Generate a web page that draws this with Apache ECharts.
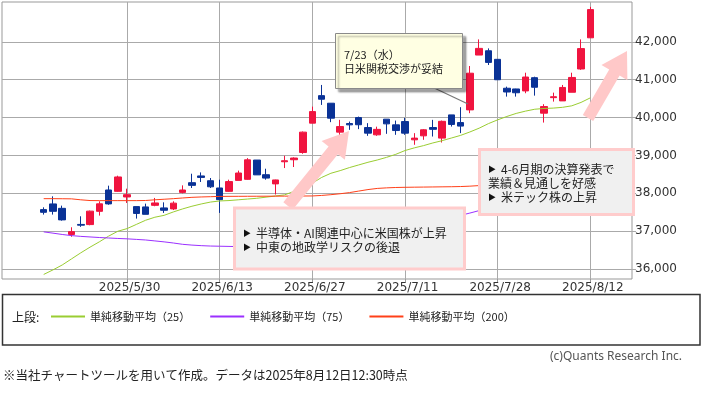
<!DOCTYPE html>
<html><head><meta charset="utf-8">
<script src="https://cdn.jsdelivr.net/npm/echarts@6/dist/echarts.min.js"></script>
<style>html,body{margin:0;padding:0;background:#fff}#c{width:709px;height:394px}</style>
</head><body><div id="c"></div>
<script>
const dates = ['2025/5/19','2025/5/20','2025/5/21','2025/5/22','2025/5/23','2025/5/26','2025/5/27','2025/5/28','2025/5/29','2025/5/30',
'2025/6/2','2025/6/3','2025/6/4','2025/6/5','2025/6/6','2025/6/9','2025/6/10','2025/6/11','2025/6/12','2025/6/13',
'2025/6/16','2025/6/17','2025/6/18','2025/6/19','2025/6/20','2025/6/23','2025/6/24','2025/6/25','2025/6/26','2025/6/27',
'2025/6/30','2025/7/1','2025/7/2','2025/7/3','2025/7/4','2025/7/7','2025/7/8','2025/7/9','2025/7/10','2025/7/11',
'2025/7/14','2025/7/15','2025/7/16','2025/7/17','2025/7/18','2025/7/22','2025/7/23','2025/7/24','2025/7/25','2025/7/28',
'2025/7/29','2025/7/30','2025/7/31','2025/8/1','2025/8/4','2025/8/5','2025/8/6','2025/8/7','2025/8/8','2025/8/12'];
const open = [37571,37721,37605,36915,37180,37176,37526,38089,38053,37905,
37650,37642,37684,37616,37589,38026,38282,38460,38334,38142,
38053,38342,38370,38879,38492,38250,38834,38887,39079,39853,
40579,40379,39616,39842,40000,39737,39545,39958,39808,39895,
39413,39518,39737,39458,40071,39868,40203,41650,41763,41537,
40774,40755,40703,41053,40116,40526,40440,40668,41282,42105];
const close = [37500,37526,37300,36990,37160,37531,37724,37722,38433,37965,
37470,37447,37747,37554,37742,38089,38211,38421,38173,37834,
38311,38537,38885,38488,38403,38354,38861,38932,39616,40158,
40484,39984,39763,39808,39811,39589,39689,39834,39658,39589,
39458,39678,39690,39901,39819,39775,41171,41826,41456,40998,
40675,40655,41070,40800,40291,40550,40795,41059,41820,42850];
const low = [37440,37440,37280,36855,37116,37158,37413,37700,38040,37747,
37334,37447,37660,37484,37560,38000,38142,38300,38142,37484,
38040,38342,38361,38488,38361,37970,38668,38695,39045,39853,
40334,39879,39432,39676,39695,39518,39518,39571,39545,39545,
39282,39413,39500,39342,39763,39590,40116,41650,41387,40998,
40553,40553,40642,40579,39868,40421,40440,40668,41260,42105];
const high = [37632,37921,37676,37105,37395,37545,37790,38203,38466,38124,
37650,37729,37879,37763,37790,38211,38518,38553,38405,38361,
38361,38600,38930,38879,38650,38361,38992,38950,39632,40289,
40861,40379,39940,39895,40026,39853,39760,39958,39921,39992,
39589,39695,39940,39921,40071,40274,41361,42063,41826,41537,
40816,40760,41184,41079,40353,40658,40861,41184,42063,42921];
const ma25 = [35860,35980,36110,36270,36430,36580,36720,36870,37000,37070,
37180,37290,37370,37420,37510,37590,37660,37720,37770,37800,
37810,37830,37850,37870,37900,37930,37960,38050,38160,38270,
38420,38530,38600,38680,38750,38820,38880,38950,39030,39130,
39200,39260,39330,39390,39460,39530,39620,39720,39840,39940,
40030,40110,40170,40220,40240,40250,40270,40310,40400,40520];
const ma75 = [36984,36950,36915,36885,36865,36850,36835,36822,36810,36800,
36785,36770,36745,36720,36690,36655,36635,36620,36610,36605,
36600,36595,36590,36590,36595,36600,36610,36625,36645,36670,
36700,36735,36775,36815,36860,36910,36960,37010,37065,37120,
37175,37230,37285,37335,37380,37420,37480,37545,37600,37650,
37700,37740,37780,37820,37850,37880,37910,37940,37980,38020];
const ma200 = [37860,37860,37858,37855,37830,37810,37808,37808,37808,37808,
37808,37812,37830,37845,37860,37878,37895,37905,37912,37920,
37921,37922,37923,37924,37925,37926,37927,37928,37930,37932,
37945,37965,37990,38020,38060,38100,38130,38145,38155,38160,
38163,38166,38169,38172,38175,38180,38190,38205,38215,38225,
38233,38241,38249,38257,38264,38271,38278,38285,38292,38300];
const xLabelDates = ['2025/5/30','2025/6/13','2025/6/27','2025/7/11','2025/7/28','2025/8/12'];
const yTicks = [36000,37000,38000,39000,40000,41000,42000];
const seriesNames = ['単純移動平均（25）','単純移動平均（75）','単純移動平均（200）'];

const PAD = 4;
const padL = Array.from({length: PAD}, (_, k) => '_l' + k);
const padR = Array.from({length: PAD}, (_, k) => '_r' + k);
const cats = padL.concat(dates, padR);
const blanks = Array(PAD).fill('-');
const kData = blanks.map(() => ['-','-','-','-'])
  .concat(dates.map((d, i) => [open[i], close[i], low[i], high[i]]))
  .concat(blanks.map(() => ['-','-','-','-']));
const padSeries = arr => blanks.concat(arr, blanks);

const RED = '#F0143F', BLUE = '#0A3296';
const CJK = 'Noto Sans CJK JP';

function arrowPts(tx, ty, px, py, s, h, hl) {
  const dx = px - tx, dy = py - ty, L = Math.hypot(dx, dy);
  const ux = dx / L, uy = dy / L, nx = -uy, ny = ux;
  const bx = px - ux * hl, by = py - uy * hl;
  return [[tx + nx * s, ty + ny * s], [bx + nx * s, by + ny * s], [bx + nx * h, by + ny * h], [px, py],
          [bx - nx * h, by - ny * h], [bx - nx * s, by - ny * s], [tx - nx * s, ty - ny * s]];
}
const txt = (x, y, t, z, size, fam, color) => ({type: 'text', x: x, y: y, z: z, silent: true,
  style: {text: t, fill: color || '#222', font: (size || 12) + 'px "' + (fam || CJK) + '"', textVerticalAlign: 'middle', verticalAlign: 'middle'}});

const chart = echarts.init(document.getElementById('c'), null, {renderer: 'canvas'});
chart.setOption({
  animation: false,
  backgroundColor: '#fff',
  grid: {left: 2, top: 2, width: 630, height: 277, show: true, borderColor: '#999', borderWidth: 1,
         backgroundColor: '#fff', containLabel: false, outerBoundsMode: 'none'},
  legend: {left: 46, top: 306, itemWidth: 34, itemHeight: 2, itemGap: 20, icon: 'rect', selectedMode: false,
           textStyle: {fontSize: 11, fontFamily: CJK, color: '#222'}, data: seriesNames},
  xAxis: {type: 'category', data: cats, boundaryGap: true,
    axisLine: {show: false},
    axisTick: {show: true, alignWithLabel: true, length: 3, interval: (i, v) => xLabelDates.includes(v), lineStyle: {color: '#999'}},
    axisLabel: {interval: (i, v) => xLabelDates.includes(v), margin: 3, padding: [0, 0, 0, 5],
      fontSize: 12, fontFamily: 'DejaVu Sans', color: '#333'},
    splitLine: {show: false}},
  yAxis: {type: 'value', position: 'right', min: 35740, max: 43050, scale: true,
    axisLine: {show: false},
    axisTick: {show: true, length: 4, customValues: yTicks, lineStyle: {color: '#aaa'}},
    axisLabel: {customValues: yTicks, margin: 3, fontSize: 12, fontFamily: 'DejaVu Sans', color: '#333',
      formatter: v => Math.round(v).toString().replace(/\B(?=(\d{3})+(?!\d))/g, ',')},
    splitLine: {show: true, lineStyle: {color: '#aaa', width: 1}}},
  series: [
    {type: 'line', name: '_grid', data: padSeries(dates.map(() => '-')), z: 1, silent: true,
     symbol: 'none', lineStyle: {opacity: 0},
     markLine: {silent: true, symbol: 'none', z: 1, animation: false, label: {show: false},
       lineStyle: {color: '#aaa', type: 'solid', width: 1},
       data: xLabelDates.map(d => ({xAxis: d}))}},
    {type: 'candlestick', name: 'kline', data: kData, z: 3, barWidth: 7,
     itemStyle: {color: RED, color0: BLUE, borderColor: RED, borderColor0: BLUE, borderWidth: 1}},
    {type: 'line', name: seriesNames[0], data: padSeries(ma25), symbol: 'none', showSymbol: false, z: 4,
     itemStyle: {color: '#9ACD32'}, lineStyle: {color: '#9ACD32', width: 1}},
    {type: 'line', name: seriesNames[1], data: padSeries(ma75), symbol: 'none', showSymbol: false, z: 4,
     itemStyle: {color: '#9B30FF'}, lineStyle: {color: '#9B30FF', width: 1}},
    {type: 'line', name: seriesNames[2], data: padSeries(ma200), symbol: 'none', showSymbol: false, z: 4,
     itemStyle: {color: '#FF4019'}, lineStyle: {color: '#FF4019', width: 1}}
  ],
  graphic: [
    {type: 'polygon', z: 100, silent: true, shape: {points: arrowPts(288, 206, 349, 131, 6, 15, 25)}, style: {fill: '#FFC8C8'}},
    {type: 'polygon', z: 100, silent: true, shape: {points: arrowPts(588, 118, 627, 51, 6, 15, 25)}, style: {fill: '#FFC8C8'}},
    {type: 'line', z: 100, silent: true, shape: {x1: 430, y1: 86, x2: 468, y2: 104}, style: {stroke: '#777', lineWidth: 1.2}},
    {type: 'rect', z: 101, silent: true, shape: {x: 335.5, y: 33.5, width: 127, height: 55},
     style: {fill: '#FFFFE3', stroke: '#8a8a8a', lineWidth: 1, shadowColor: 'rgba(0,0,0,0.35)', shadowOffsetX: 3, shadowOffsetY: 3, shadowBlur: 2}},
    txt(344, 55, '7/23（水）', 102, 11),
    txt(344, 69, '日米関税交渉が妥結', 102, 11),
    {type: 'rect', z: 103, silent: true, shape: {x: 234.5, y: 208, width: 230, height: 61},
     style: {fill: '#F0F0F0', stroke: '#FFCCCC', lineWidth: 3}},
    txt(243, 233, '▶', 104, 8, CJK, '#111'),
    txt(256, 233, '半導体・AI関連中心に米国株が上昇', 104, 12),
    txt(243, 247, '▶', 104, 8, CJK, '#111'),
    txt(256, 247, '中東の地政学リスクの後退', 104, 12),
    {type: 'rect', z: 103, silent: true, shape: {x: 479.5, y: 149.5, width: 154, height: 65},
     style: {fill: '#F0F0F0', stroke: '#FFCCCC', lineWidth: 3}},
    txt(488, 169, '▶', 104, 8, CJK, '#111'),
    txt(501, 169, '4-6月期の決算発表で', 104, 12),
    txt(488, 183, '業績＆見通しを好感', 104, 12),
    txt(488, 197, '▶', 104, 8, CJK, '#111'),
    txt(501, 197, '米テック株の上昇', 104, 12),
    {type: 'rect', z: 50, silent: true, shape: {x: 2.5, y: 294.5, width: 697.5, height: 50.5},
     style: {fill: 'none', stroke: '#333', lineWidth: 1.5}},
    txt(12, 317, '上段:', 60, 12),
    txt(550, 357, '(c)Quants Research Inc.', 60, 12, 'Noto Sans', '#555'),
    txt(3, 375, '※当社チャートツールを用いて作成。データは2025年8月12日12:30時点', 60, 12.5)
  ]
});
</script></body></html>
